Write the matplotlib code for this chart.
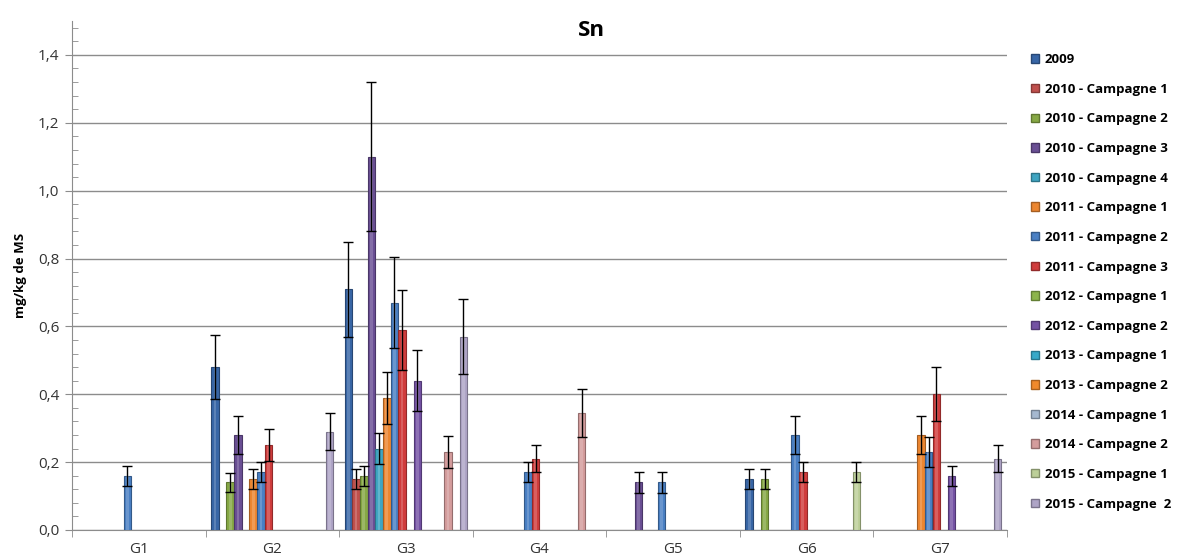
import numpy as np
import matplotlib.pyplot as plt
from matplotlib.patches import Patch
from matplotlib.ticker import FixedLocator, MultipleLocator

plt.rcParams['font.family'] = ['Open Sans', 'DejaVu Sans']

groups = ["G1", "G2", "G3", "G4", "G5", "G6", "G7"]

series = ["2009", "2010 - Campagne 1", "2010 - Campagne 2", "2010 - Campagne 3",
          "2010 - Campagne 4", "2011 - Campagne 1", "2011 - Campagne 2",
          "2011 - Campagne 3", "2012 - Campagne 1", "2012 - Campagne 2",
          "2013 - Campagne 1", "2013 - Campagne 2", "2014 - Campagne 1",
          "2014 - Campagne 2", "2015 - Campagne 1", "2015 - Campagne  2"]

colors = ["#3866a6", "#c0504d", "#86a845", "#6a4f94", "#3fa5c2", "#ec8630",
          "#4a80c4", "#d03c3c", "#8db54b", "#7452a4", "#35a9c9", "#f08a2c",
          "#a5b8d0", "#d49c9c", "#bccf98", "#aea4c6"]

nan = np.nan
# one row per series, one column per group (G1..G7)
values = [
    [nan, 0.48, 0.71, nan, nan, 0.15, nan],   # 2009
    [nan, nan, 0.15, nan, nan, nan, nan],     # 2010 C1
    [nan, 0.14, 0.16, nan, nan, 0.15, nan],   # 2010 C2
    [nan, 0.28, 1.10, nan, 0.14, nan, nan],   # 2010 C3
    [nan, nan, 0.24, nan, nan, nan, nan],     # 2010 C4
    [nan, 0.15, 0.39, nan, nan, nan, 0.28],   # 2011 C1
    [0.16, 0.17, 0.67, 0.17, 0.14, 0.28, 0.23],  # 2011 C2
    [nan, 0.25, 0.59, 0.21, nan, 0.17, 0.40],  # 2011 C3
    [nan, nan, nan, nan, nan, nan, nan],      # 2012 C1
    [nan, nan, 0.44, nan, nan, nan, 0.16],    # 2012 C2
    [nan, nan, nan, nan, nan, nan, nan],      # 2013 C1
    [nan, nan, nan, nan, nan, nan, nan],      # 2013 C2
    [nan, nan, nan, nan, nan, nan, nan],      # 2014 C1
    [nan, nan, 0.23, 0.345, nan, nan, nan],   # 2014 C2
    [nan, nan, nan, nan, nan, 0.17, nan],     # 2015 C1
    [nan, 0.29, 0.57, nan, nan, nan, 0.21],   # 2015 C2
]
errors = [
    [nan, 0.095, 0.14, nan, nan, 0.03, nan],
    [nan, nan, 0.03, nan, nan, nan, nan],
    [nan, 0.027, 0.03, nan, nan, 0.03, nan],
    [nan, 0.056, 0.22, nan, 0.03, nan, nan],
    [nan, nan, 0.047, nan, nan, nan, nan],
    [nan, 0.03, 0.077, nan, nan, nan, 0.056],
    [0.03, 0.03, 0.134, 0.03, 0.03, 0.056, 0.044],
    [nan, 0.047, 0.118, 0.04, nan, 0.03, 0.08],
    [nan, nan, nan, nan, nan, nan, nan],
    [nan, nan, 0.089, nan, nan, nan, 0.03],
    [nan, nan, nan, nan, nan, nan, nan],
    [nan, nan, nan, nan, nan, nan, nan],
    [nan, nan, nan, nan, nan, nan, nan],
    [nan, nan, 0.047, 0.07, nan, nan, nan],
    [nan, nan, nan, nan, nan, 0.03, nan],
    [nan, 0.055, 0.11, nan, nan, nan, 0.04],
]


def darker(hex_color, f=0.7):
    c = np.array([int(hex_color[i:i + 2], 16) for i in (1, 3, 5)]) / 255
    return tuple(c * f)


fig = plt.figure(figsize=(11.82, 5.58), dpi=100)
ax = fig.add_axes([0.0609, 0.0502, 0.7910, 0.9122])

x = np.arange(len(groups))
slot = 0.0573
for i, name in enumerate(series):
    pos = x + (i - 7.5) * slot
    v = np.array(values[i])
    e = np.array(errors[i])
    ax.bar(pos, v, width=slot * 0.98, color=colors[i], edgecolor=darker(colors[i]),
           linewidth=0.8, zorder=3)
    ax.bar(pos, v, width=slot * 0.35, color="white", alpha=0.18, linewidth=0, zorder=4)
    ax.errorbar(pos, v, yerr=e, fmt="none", ecolor="black", elinewidth=1,
                capsize=3.5, capthick=1, zorder=5)

ax.set_xlim(-0.5, 6.5)
ax.set_ylim(0, 1.5)
ax.set_yticks(np.arange(0, 1.41, 0.2))
ax.set_yticklabels([f"{t:.1f}".replace(".", ",") for t in np.arange(0, 1.41, 0.2)],
                   fontsize=11, color="#333333")
ax.yaxis.set_minor_locator(MultipleLocator(0.04))
ax.grid(axis="y", which="major", color="#8c8c8c", linewidth=1, zorder=0)
ax.tick_params(axis="y", which="major", length=5, color="#8c8c8c", pad=4)
ax.tick_params(axis="y", which="minor", length=4, direction="in", color="#8c8c8c")

ax.set_xticks(x)
ax.set_xticklabels(groups, fontsize=11, color="#333333")
ax.xaxis.set_minor_locator(FixedLocator(np.arange(-0.5, 6.6, 1)))
ax.tick_params(axis="x", which="major", length=0, pad=9)
ax.tick_params(axis="x", which="minor", length=5, color="#8c8c8c")

for s in ["top", "right"]:
    ax.spines[s].set_visible(False)
for s in ["left", "bottom"]:
    ax.spines[s].set_color("#8c8c8c")

ax.set_ylabel("mg/kg de MS", fontsize=9.5, fontweight="bold", labelpad=8)
fig.text(0.5, 0.945, "Sn", ha="center", va="center", fontsize=16, fontweight="bold")

handles = [Patch(facecolor=c, edgecolor=darker(c)) for c in colors]
fig.legend(handles, series, loc="upper left", bbox_to_anchor=(0.862, 0.926),
           frameon=False, handlelength=0.6, handleheight=0.6,
           handletextpad=0.45, labelspacing=1.26, prop={"weight": "bold", "size": 9.5})

plt.savefig("out.png", dpi=100)
